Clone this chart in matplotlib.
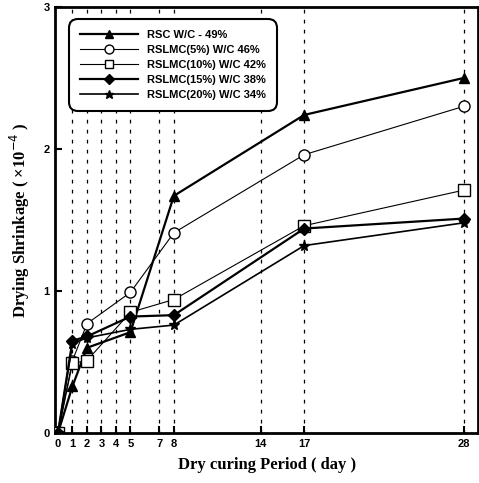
import matplotlib
matplotlib.use('Agg')
import matplotlib.pyplot as plt

# dry curing days and drying shrinkage (x10^-4)
days = [0, 1, 2, 5, 8, 17, 28]
rsc = [0, 0.33, 0.60, 0.71, 1.67, 2.24, 2.50]
rslmc5 = [0, 0.51, 0.77, 0.99, 1.41, 1.96, 2.30]
rslmc10 = [0, 0.49, 0.51, 0.85, 0.94, 1.46, 1.71]
rslmc15 = [0, 0.65, 0.68, 0.82, 0.83, 1.44, 1.51]
rslmc20 = [0, 0.63, 0.67, 0.73, 0.76, 1.32, 1.48]

labels = ['RSC W/C - 49%', 'RSLMC(5%) W/C 46%', 'RSLMC(10%) W/C 42%',
          'RSLMC(15%) W/C 38%', 'RSLMC(20%) W/C 34%']
xticks = [0, 1, 2, 3, 4, 5, 7, 8, 14, 17, 28]
grid_days = [1, 2, 3, 4, 5, 7, 8, 14, 17, 28]

fig = plt.figure(figsize=(4.79, 4.83), dpi=100)
ax = fig.add_axes([0.115, 0.1035, 0.883, 0.882])

for d in grid_days:
    ax.axvline(d, color='black', lw=0.9, ls=(0, (3, 5)), zorder=1)

ax.plot(days, rsc, '-^', color='black', lw=1.6, ms=7, label=labels[0], zorder=3)
ax.plot(days, rslmc5, '-o', color='black', lw=0.8, ms=8, mfc='white', label=labels[1], zorder=3)
ax.plot(days, rslmc10, '-s', color='black', lw=0.8, ms=8, mfc='white', label=labels[2], zorder=3)
ax.plot(days, rslmc15, '-D', color='black', lw=1.6, ms=6, label=labels[3], zorder=3)
ax.plot(days, rslmc20, '-*', color='black', lw=1.2, ms=8, label=labels[4], zorder=3)

ax.set_xlim(-0.2, 29)
ax.set_ylim(0, 3)
ax.set_xticks(xticks)
ax.set_yticks([0, 1, 2, 3])
ax.tick_params(direction='in', length=5, width=1.5, labelsize=8, pad=4)
for t in ax.get_xticklabels() + ax.get_yticklabels():
    t.set_fontweight('bold')
    t.set_family('Liberation Sans')
for s in ax.spines.values():
    s.set_linewidth(2)

ax.set_xlabel('Dry curing Period ( day )', family='Liberation Serif',
              fontweight='bold', fontsize=12, labelpad=6)
ax.set_ylabel('Drying Shrinkage ( \u00d710$^{-4}$ )', family='Liberation Serif',
              fontweight='bold', fontsize=12, labelpad=8)

leg = ax.legend(loc='upper left', bbox_to_anchor=(0.02, 0.985), fancybox=True,
                handlelength=5.2, framealpha=1, edgecolor='black', markerscale=0.8,
                prop={'family': 'Liberation Sans', 'weight': 'bold', 'size': 8},
                borderpad=1.0, labelspacing=0.45)
leg.get_frame().set_linewidth(1.5)
leg.get_frame().set_boxstyle('round', pad=0, rounding_size=0.8)

fig.savefig('out.png', dpi=100)
